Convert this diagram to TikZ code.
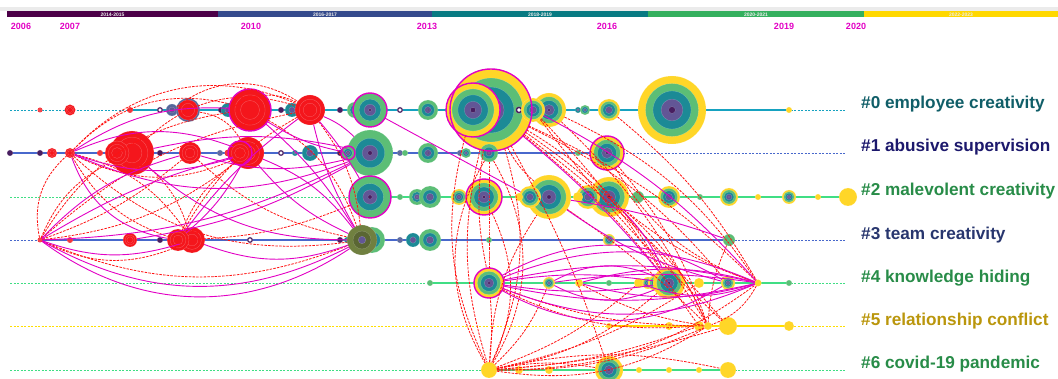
\documentclass[tikz,border=0pt]{standalone}
\usepackage{fontspec}
\setmainfont{Liberation Sans}
\usetikzlibrary{positioning}

\definecolor{cyl}{RGB}{255,214,40}
\definecolor{cgr}{RGB}{92,190,118}
\definecolor{ctl}{RGB}{28,138,150}
\definecolor{cpu}{RGB}{98,86,150}
\definecolor{cdk}{RGB}{72,30,96}
\definecolor{cred}{RGB}{244,22,28}
\definecolor{csl}{RGB}{84,104,156}
\definecolor{col}{RGB}{112,128,64}
\definecolor{cmag}{RGB}{226,0,196}
\definecolor{row0}{RGB}{22,162,192}
\definecolor{row1}{RGB}{72,104,204}
\definecolor{row2}{RGB}{64,222,132}
\definecolor{row5}{RGB}{255,222,0}
\definecolor{bar1}{RGB}{76,0,72}
\definecolor{bar2}{RGB}{52,74,140}
\definecolor{bar3}{RGB}{8,122,130}
\definecolor{bar4}{RGB}{52,176,94}
\definecolor{bar5}{RGB}{255,216,0}
\definecolor{lab0}{RGB}{16,94,104}
\definecolor{lab1}{RGB}{28,24,108}
\definecolor{lab2}{RGB}{40,140,72}
\definecolor{lab3}{RGB}{40,54,110}
\definecolor{lab5}{RGB}{186,150,12}

\tikzset{
  hub/.style={circle, inner sep=0pt, outer sep=0pt},
  burst/.style={draw=cmag, line width=1.4pt},
  guide/.style={#1, dash pattern=on 2pt off 1.5pt, line width=0.6pt},
  track/.style={#1, line width=2.2pt},
  co/.style={draw={rgb,255:red,255;green,18;blue,18}, dash pattern=on 2.5pt off 1.2pt, line width=0.8pt},
  ci/.style={draw=cmag, line width=0.9pt},
  lab/.style={anchor=west, inner sep=0pt, font=\fontsize{17.2}{20}\selectfont\bfseries},
  yr/.style={text=cmag, inner sep=0pt, font=\fontsize{9}{10}\selectfont\bfseries},
  barlab/.style={text=white!85!gray, inner sep=0pt, font=\fontsize{5}{6}\selectfont\bfseries}
}

\newcommand{\blob}[5]{%
  \foreach \col/\fr in {#5}
    \filldraw[fill=\col, draw=white, draw opacity=0.3, line width=0.3pt] (#2,#3) circle ({\fr*#4pt});
  \node[hub, minimum size={2*#4pt}] (#1) at (#2,#3) {};}
\newcommand{\nyg}[4]{\blob{#1}{#2}{#3}{#4}{cyl/1,cgr/0.78,ctl/0.56,cpu/0.32,cdk/0.1}}
\newcommand{\ngn}[4]{\blob{#1}{#2}{#3}{#4}{cgr/1,ctl/0.64,cpu/0.34,cdk/0.1}}
\newcommand{\ntl}[4]{\blob{#1}{#2}{#3}{#4}{ctl/1,cpu/0.45}}
\newcommand{\nrd}[4]{\blob{#1}{#2}{#3}{#4}{cred/1,cred/0.72,cred/0.45}}
\newcommand{\nsr}[4]{\blob{#1}{#2}{#3}{#4}{csl/1,cred/0.85,cred/0.55}}
\newcommand{\nyd}[4]{\blob{#1}{#2}{#3}{#4}{cyl/1}}
\newcommand{\ngd}[4]{\blob{#1}{#2}{#3}{#4}{cgr/1}}
\newcommand{\ndk}[4]{\blob{#1}{#2}{#3}{#4}{cdk/1}}
\newcommand{\nsl}[4]{\blob{#1}{#2}{#3}{#4}{csl/1,cpu/0.5}}
\newcommand{\nri}[4]{\blob{#1}{#2}{#3}{#4}{cdk/1,white/0.55}}
\newcommand{\nol}[4]{\blob{#1}{#2}{#3}{#4}{col/1,col!80!black/0.6,cpu/0.25}}

\begin{document}
\begin{tikzpicture}[x=1pt, y=-1pt]
\useasboundingbox (0,0) rectangle (1058,379);

\fill[black!8] (0,7) rectangle (1058,11);
\foreach \xa/\xb/\c/\t [count=\i] in {7/218/bar1/2014-2015, 218/432/bar2/2016-2017,
    432/648/bar3/2018-2019, 648/864/bar4/2020-2021, 864/1058/bar5/2022-2023}
  {\fill[\c] (\xa,11) rectangle (\xb,17.5);
   \node[barlab] (span\i) at ({(\xa+\xb)/2},14.3) {\t};}
\foreach \yy/\x in {2006/21, 2007/70, 2010/251, 2013/427, 2016/607, 2019/784, 2020/856}
  \node[yr] (y\yy) at (\x,26) {\yy};

\draw[guide=row0] (10,110) -- (845,110);  \draw[track=row0] (130,110) -- (789,110);
\draw[guide=row1] (10,153) -- (845,153);  \draw[track=row1] (10,153) -- (607,153);
\draw[guide=row2] (10,197) -- (845,197);  \draw[track=row2] (370,197) -- (848,197);
\draw[guide=row1] (10,240) -- (845,240);  \draw[track=row1] (40,240) -- (729,240);
\draw[guide=row2] (10,283) -- (845,283);  \draw[track=row2] (430,283) -- (789,283);
\draw[guide=row5] (10,326) -- (845,326);  \draw[track=row5] (609,326) -- (789,326);
\draw[guide=row2] (10,370) -- (845,370);  \draw[track=row2] (489,370) -- (728,370);

\foreach \n/\x/\rad/\k in {emp40/40/2.5/nrd, emp70/70/5.5/nrd, emp130/130/3/nrd, emp160/160/3/nri,
    emp172/172/6/nsl, emp188/188/12/nsr, emp221/221/3/ndk, emp228/228/7/ntl, emp250/250/21/nrd,
    emp281/281/3/ndk, emp292/292/7/ntl, emp310/310/15/nrd, emp340/340/3/ndk, emp355/355/8/ngn,
    emp370/370/17/ngn, emp400/400/3/nri, emp428/428/10/ngn, emp459/459/3.5/nri, emp491/491/41/nyg,
    emp473/473/27/nyg, emp519/519/3.5/nri, emp549/549/17/nyg, emp533/533/12/nyg, emp578/578/3/ntl,
    emp585/585/5/ngn, emp609/609/11/nyg, emp672/672/34/nyg, emp789/789/3/nyd}
  \csname\k\endcsname{\n}{\x}{110}{\rad};
\foreach \n/\x/\rad/\k in {abu10/10/3/ndk, abu40/40/3/ndk, abu52/52/5/nrd, abu70/70/5/nrd,
    abu100/100/3/nrd, abu132/132/22/nrd, abu117/117/12/nrd, abu160/160/3/ndk, abu190/190/11/nrd,
    abu220/220/3/nsl, abu228/228/3.5/nrd, abu248/248/16/nrd, abu240/240/12/nrd, abu281/281/3/nri,
    abu295/295/3/ntl, abu310/310/8/ntl, abu340/340/3/ndk, abu370/370/23/ngn, abu348/348/7/ngn,
    abu400/400/3/nsl, abu405/405/3/ngd, abu428/428/10/ngn, abu460/460/3/nsl, abu466/466/5/ngn,
    abu489/489/9/ngn, abu578/578/3/ngd, abu607/607/17/nyg}
  \csname\k\endcsname{\n}{\x}{153}{\rad};
\foreach \n/\x/\rad/\k in {mal370/370/21/ngn, mal400/400/3/ngd, mal417/417/8/ngn, mal430/430/11/ngn,
    mal459/459/8/nyg, mal484/484/18/nyg, mal549/549/22/nyg, mal530/530/11/nyg, mal519/519/4/nyd,
    mal609/609/20/nyg, mal588/588/12/nyg, mal578/578/5/nyd, mal638/638/6/ngd, mal669/669/11/nyg,
    mal700/700/3/ngd, mal729/729/9/nyg, mal758/758/3/nyd, mal789/789/7/nyg, mal818/818/3/nyd,
    mal848/848/9/nyd}
  \csname\k\endcsname{\n}{\x}{197}{\rad};
\foreach \n/\x/\rad/\k in {tea40/40/2.5/nrd, tea70/70/3/nrd, tea130/130/7/nrd, tea160/160/3/ndk,
    tea192/192/13/nrd, tea178/178/11/nrd, tea250/250/3/nri, tea340/340/3/ndk, tea347/347/3/ntl,
    tea372/372/13/ngn, tea362/362/15/nol, tea400/400/3/nsl, tea413/413/7/ntl, tea430/430/11/ngn,
    tea489/489/3/ngd, tea609/609/6/nyg, tea729/729/6/ngd}
  \csname\k\endcsname{\n}{\x}{240}{\rad};
\foreach \n/\x/\rad/\k in {kno430/430/3/ngd, kno489/489/15/nyg, kno549/549/6/nyg, kno579/579/4/nyd,
    kno609/609/3/ngd, kno639/639/5/nyd, kno648/648/6/nyg, kno656/656/8/nyg, kno669/669/16/nyg,
    kno699/699/5/nyd, kno728/728/7/nyg, kno758/758/3.5/nyd, kno789/789/3/ngd}
  \csname\k\endcsname{\n}{\x}{283}{\rad};
\foreach \n/\x/\rad/\k in {rel609/609/3/nyd, rel669/669/4/nyd, rel699/699/5/nyd, rel708/708/4/nyd,
    rel728/728/9/nyd, rel789/789/5/nyd}
  \csname\k\endcsname{\n}{\x}{326}{\rad};
\foreach \n/\x/\rad/\k in {cov489/489/8/nyd, cov519/519/4/nyd, cov549/549/4/nyd, cov609/609/14/nyg,
    cov639/639/3/nyd, cov669/669/3/nyd, cov699/699/3/nyd, cov728/728/8/nyd}
  \csname\k\endcsname{\n}{\x}{370}{\rad};

\foreach \n/\rad in {emp250/21, emp370/17, emp491/41, emp473/27, abu240/12, abu348/7,
    abu607/17, mal370/21, mal484/18, kno489/15}
  \draw[burst] (\n) circle ({\rad pt});

% co-citation links
\foreach \a/\b/\s in {tea40/abu70/30, tea40/abu132/20, tea40/abu190/-10, tea40/abu248/-15,
    tea40/emp250/25, tea40/emp310/15, tea40/tea192/-25, tea40/tea362/-22, abu70/emp310/35,
    abu70/emp250/30, abu70/tea178/-20, abu70/tea192/20, abu70/tea362/-25, abu70/abu248/-25,
    abu132/tea192/15, abu132/emp310/30, abu190/tea362/-15, abu248/tea178/-15, emp188/abu248/25,
    emp310/tea362/15, emp310/tea178/-15, emp250/tea362/20, tea178/mal370/-10, emp228/emp310/30,
    emp172/emp310/35,
    emp491/kno669/15, emp491/kno728/12, emp491/kno758/10, emp491/rel699/8, emp491/rel708/12,
    emp491/rel728/6, emp491/cov489/-15, emp491/cov489/20, emp491/cov609/5, emp491/kno489/-10,
    emp491/mal549/-10, emp473/cov489/-20, emp549/kno758/15, emp549/rel708/10, emp533/kno669/5,
    emp533/rel728/-5, emp609/kno758/10, abu607/kno758/-20, abu607/rel708/10, abu489/cov489/30,
    abu489/kno489/0, mal484/cov489/25, mal549/rel708/5, mal609/kno758/-10, mal609/rel708/12,
    tea729/rel708/-10, cov489/kno489/-5, cov489/kno549/-12, cov489/kno639/-10, cov489/kno669/-15,
    cov489/kno699/-10, cov489/kno758/-18, cov489/rel699/-8, cov489/rel708/-12, cov489/rel708/-20,
    cov489/rel728/-6, cov489/cov609/10, cov489/cov728/12, cov489/mal549/15, cov489/abu489/30,
    kno489/rel708/-10, kno489/rel699/-15, kno579/rel708/-10, kno758/rel708/20}
  \draw[co] (\a) to[bend left=\s] (\b);
% citing links
\foreach \a/\b/\s in {tea40/abu190/15, tea40/tea362/-35, tea40/tea362/-28, tea40/abu370/-12,
    tea40/tea192/-18, tea40/abu248/8, abu70/abu248/22, abu70/abu248/-18, abu70/abu370/-22,
    abu70/emp250/18, abu70/tea178/-30, abu132/abu370/12, abu132/tea362/-20, abu248/tea362/15,
    abu248/tea362/-12, emp310/tea362/-8, emp310/abu370/10, emp310/tea178/-8, emp310/mal370/5,
    emp250/abu348/-10, emp250/tea362/8, tea192/tea362/-20, tea178/abu248/-10, emp370/mal530/0,
    abu190/abu370/-15, tea130/abu370/-10,
    kno489/kno758/12, kno489/kno758/-12, kno489/kno758/22, kno489/kno758/-22, kno489/kno669/8,
    kno489/kno669/-8, kno549/kno669/25, kno549/kno669/-25, kno579/kno758/15, kno579/kno758/-15,
    kno639/kno758/-20, kno549/kno758/8, kno489/kno728/30, kno489/kno728/-30, emp491/kno669/5,
    mal549/kno728/-10, mal609/kno669/10, emp533/kno758/10, mal549/tea729/5}
  \draw[ci] (\a) to[bend left=\s] (\b);

\node[lab, text=lab0] (name0) at (861,104) {\#0 employee creativity};
\node[lab, text=lab1] (name1) at (861,147) {\#1 abusive supervision};
\node[lab, text=lab2] (name2) at (861,191) {\#2 malevolent creativity};
\node[lab, text=lab3] (name3) at (861,235) {\#3 team creativity};
\node[lab, text=lab2] (name4) at (861,278) {\#4 knowledge hiding};
\node[lab, text=lab5] (name5) at (861,321) {\#5 relationship conflict};
\node[lab, text=lab2] (name6) at (861,364) {\#6 covid-19 pandemic};
\end{tikzpicture}
\end{document}
